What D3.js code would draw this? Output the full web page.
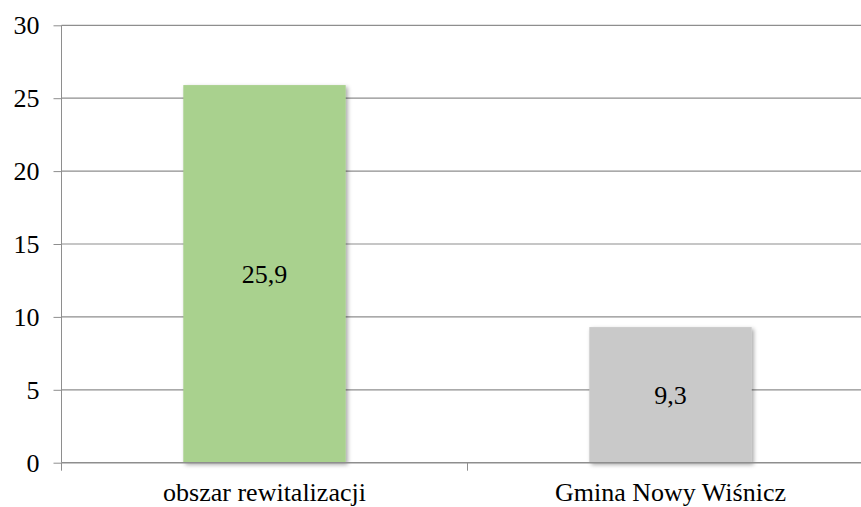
<!DOCTYPE html>
<html>
<head>
<meta charset="utf-8">
<script src="https://cdn.jsdelivr.net/npm/d3@7"></script>
<style>
  body { margin: 0; background: #fff; }
  .axis path, .axis line { stroke: #8e8e8e; }
</style>
</head>
<body>
<script>
// chart data
const categories = ["obszar rewitalizacji", "Gmina Nowy Wiśnicz"];
const values = [25.9, 9.3];
const valueLabels = ["25,9", "9,3"];
const barColors = ["#a9d18e", "#c9c9c9"];
const yTicks = [0, 5, 10, 15, 20, 25, 30];

const width = 861, height = 507;
const plotLeft = 61.5, plotRight = 873.5, plotTop = 25.3, plotBottom = 462.7;
const serif = "'Liberation Serif', 'Times New Roman', Tinos, 'Nimbus Roman', 'DejaVu Serif', 'Noto Serif', serif";

const svg = d3.select("body").append("svg")
    .attr("width", width)
    .attr("height", height)
    .style("display", "block");

// soft shadow under the bars
const defs = svg.append("defs");
defs.append("filter")
    .attr("id", "shadow")
    .attr("x", "-10%").attr("y", "-10%")
    .attr("width", "130%").attr("height", "130%")
    .append("feDropShadow")
    .attr("dx", 2).attr("dy", 2)
    .attr("stdDeviation", 2)
    .attr("flood-color", "#000")
    .attr("flood-opacity", 0.35);

var y = d3.scaleLinear().domain([0, 30]).range([plotBottom, plotTop]);

// bars sit in the middle 40% of each category
var x = d3.scaleBand().domain(categories).range([plotLeft, plotRight])
    .paddingInner(0.6).paddingOuter(0.3);
// category edges, for the tick marks on the bottom axis
var xEdge = d3.scaleBand().domain(categories).range([plotLeft, plotRight]);

// gridlines
svg.append("g")
    .selectAll("line")
    .data(yTicks.slice(1))
    .enter().append("line")
    .attr("x1", plotLeft).attr("x2", width)
    .attr("y1", d => y(d)).attr("y2", d => y(d))
    .attr("stroke", "#8e8e8e")
    .attr("stroke-width", 1.2);

// y axis
var yAxis = svg.append("g")
    .attr("class", "axis")
    .attr("transform", "translate(" + plotLeft + ",0)")
    .call(d3.axisLeft(y).tickValues(yTicks).tickSize(8).tickPadding(14));
yAxis.attr("font-family", serif).attr("font-size", 26);
yAxis.select(".domain").attr("d", "M0," + plotTop + "V" + plotBottom);
yAxis.selectAll("text").attr("fill", "#000");

// bars
svg.append("g")
    .selectAll("rect")
    .data(values)
    .enter().append("rect")
    .attr("x", (d, i) => x(categories[i]))
    .attr("y", d => y(d))
    .attr("width", x.bandwidth())
    .attr("height", d => y(0) - y(d))
    .attr("fill", (d, i) => barColors[i])
    .attr("filter", "url(#shadow)");

// value labels in the middle of each bar
svg.append("g")
    .attr("font-family", serif)
    .attr("font-size", 26)
    .selectAll("text")
    .data(values)
    .enter().append("text")
    .attr("x", (d, i) => x(categories[i]) + x.bandwidth() / 2)
    .attr("y", d => (y(d) + y(0)) / 2)
    .attr("dy", "0.35em")
    .attr("text-anchor", "middle")
    .text((d, i) => valueLabels[i]);

// x axis: line at 0, ticks at category edges, labels centred
var xg = svg.append("g").attr("class", "axis")
    .attr("font-family", serif)
    .attr("font-size", 26);
xg.append("line")
    .attr("x1", plotLeft).attr("x2", width)
    .attr("y1", y(0)).attr("y2", y(0))
    .attr("stroke-width", 1.5);
xg.selectAll("line.tick")
    .data(categories.concat(["end"]))
    .enter().append("line")
    .attr("class", "tick")
    .attr("x1", (d, i) => i < categories.length ? xEdge(d) : plotRight)
    .attr("x2", (d, i) => i < categories.length ? xEdge(d) : plotRight)
    .attr("y1", y(0)).attr("y2", y(0) + 8);
xg.selectAll("text")
    .data(categories)
    .enter().append("text")
    .attr("x", d => xEdge(d) + xEdge.bandwidth() / 2)
    .attr("y", 501)
    .attr("text-anchor", "middle")
    .text(d => d);
</script>
</body>
</html>
